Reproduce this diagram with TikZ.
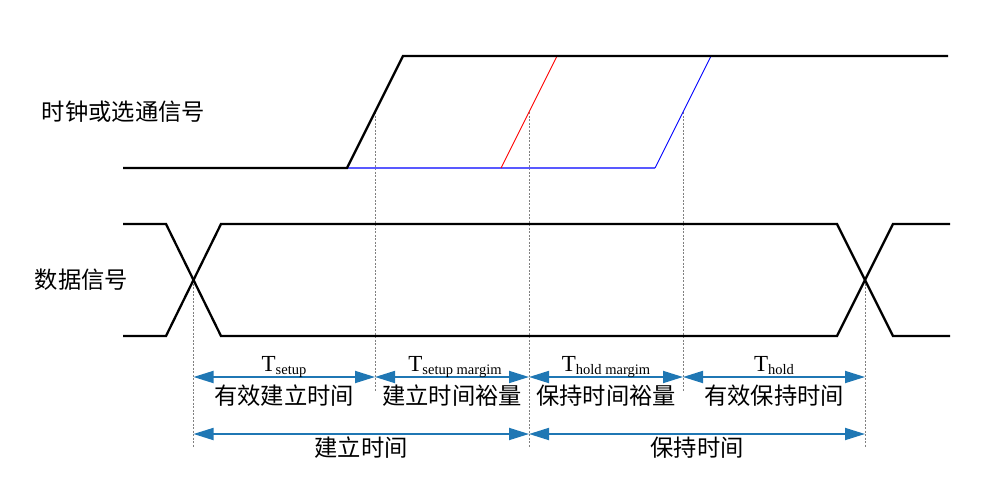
\documentclass[tikz,border=0pt]{standalone}
\usepackage{fontspec}
\setmainfont{Liberation Serif}
\newfontfamily\cjk{Noto Sans CJK SC}
\usetikzlibrary{arrows.meta,calc}
\definecolor{dimblue}{HTML}{1F77B4}
\tikzset{
 sig/.style={line width=2.3pt, line join=miter},
 guide/.style={gray, dash pattern=on 2pt off 1.5pt, line width=0.6pt},
 dimarrow/.style={draw=dimblue, line width=1.8pt, {Triangle[length=20pt,width=12pt]}-{Triangle[length=20pt,width=12pt]}},
 tlab/.style={anchor=base, inner sep=0pt, font=\fontsize{23}{23}\selectfont},
 clab/.style={anchor=base, inner sep=0pt, font=\cjk\fontsize{23.3}{23.3}\selectfont},
}
\newcommand{\subtxt}[1]{{\fontsize{14.5}{14.5}\selectfont\raisebox{-3.5pt}{#1}}}
\begin{document}
\begin{tikzpicture}[x=1pt,y=-1pt]
\useasboundingbox (0,0) rectangle (988,490);
% clock coordinates
\coordinate (c0) at (123,168);
\coordinate (c1) at (347,168);
\coordinate (c2) at (403,56);
\coordinate (c3) at (948,56);
\coordinate (r0) at (501,168);
\coordinate (r1) at (557,56);
\coordinate (b0) at (655,168);
\coordinate (b1) at (711,56);
% data coordinates
\coordinate (d0t) at (123,224);
\coordinate (d1t) at (166,224);
\coordinate (d2t) at (221,224);
\coordinate (d3t) at (837,224);
\coordinate (d4t) at (893,224);
\coordinate (d5t) at (950,224);
\coordinate (d0b) at (123,336);
\coordinate (d1b) at (166,336);
\coordinate (d2b) at (221,336);
\coordinate (d3b) at (837,336);
\coordinate (d4b) at (893,336);
\coordinate (d5b) at (950,336);
% guide tops
\coordinate (g0) at (193.5,280);
\coordinate (g1) at ($(c1)!0.5!(c2)$);
\coordinate (g2) at ($(r0)!0.5!(r1)$);
\coordinate (g3) at ($(b0)!0.5!(b1)$);
\coordinate (g4) at (865,280);
% guide bottoms
\coordinate (h0) at (193.5,447);
\coordinate (h1) at (375,392);
\coordinate (h2) at (529,447);
\coordinate (h3) at (683,392);
\coordinate (h4) at (865,447);
% guides
\draw[guide] (g0) -- (h0);
\draw[guide] (g1) -- (h1);
\draw[guide] (g2) -- (h2);
\draw[guide] (g3) -- (h3);
\draw[guide] (g4) -- (h4);
% clock
\draw[blue!65, line width=1.3pt] (c1) -- (b0);
\draw[red, line width=0.9pt] (r0) -- (r1);
\draw[blue, line width=0.9pt] (b0) -- (b1);
\draw[sig] (c0) -- (c1) -- (c2) -- (c3);
% data
\draw[sig] (d0t) -- (d1t) -- (d2b) -- (d3b) -- (d4t) -- (d5t);
\draw[sig] (d0b) -- (d1b) -- (d2t) -- (d3t) -- (d4b) -- (d5b);
% arrow rows
\coordinate (a0) at (193.5,377);
\coordinate (a1) at (375,377);
\coordinate (a2) at (529,377);
\coordinate (a3) at (683,377);
\coordinate (a4) at (865,377);
\coordinate (e0) at (193.5,434);
\coordinate (e2) at (529,434);
\coordinate (e4) at (865,434);
\draw[dimarrow] (a0) -- (a1);
\draw[dimarrow] (a1) -- (a2);
\draw[dimarrow] (a2) -- (a3);
\draw[dimarrow] (a3) -- (a4);
\draw[dimarrow] (e0) -- (e2);
\draw[dimarrow] (e2) -- (e4);
% labels
\node[clab] (lclk) at (123.5,120) {时钟或选通信号};
\node[clab] (ldat) at (81.5,288) {数据信号};
\node[tlab] (t1) at (284,371) {T\subtxt{setup}};
\node[tlab] (t2) at (455,371) {T\subtxt{setup margim}};
\node[tlab] (t3) at (606,371) {T\subtxt{hold margim}};
\node[tlab] (t4) at (774,371) {T\subtxt{hold}};
\node[clab] (k1) at (284,404) {有效建立时间};
\node[clab] (k2) at (452,404) {建立时间裕量};
\node[clab] (k3) at (606,404) {保持时间裕量};
\node[clab] (k4) at (774,404) {有效保持时间};
\node[clab] (k5) at (361,456) {建立时间};
\node[clab] (k6) at (697,456) {保持时间};
\end{tikzpicture}
\end{document}
